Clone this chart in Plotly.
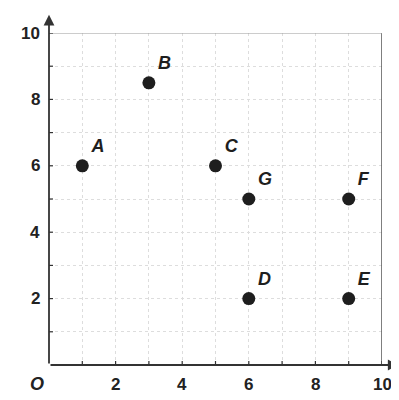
import plotly.graph_objects as go

labels = ["A", "B", "C", "G", "F", "D", "E"]
xs = [1, 3, 5, 6, 9, 6, 9]
ys = [6, 8.5, 6, 5, 5, 2, 2]
tick_vals = [2, 4, 6, 8, 10]
tick_text = ["2", "4", "6", "8", "10"]

fig = go.Figure()
fig.add_trace(go.Scatter(
    x=xs, y=ys, mode="markers+text", text=labels,
    textposition="top right",
    marker=dict(size=13, color="#1e1e1e"),
    textfont=dict(family="Liberation Sans", size=18, color="#1e1e1e", weight="bold", style="italic"),
    cliponaxis=False, showlegend=False,
))

grid = dict(showgrid=True, gridcolor="#dddddd", griddash="dot", gridwidth=1, dtick=1)
fig.update_xaxes(range=[0, 10], tick0=0, **grid, showticklabels=False,
                 zeroline=False, showline=False, ticks="")
fig.update_yaxes(range=[0, 10], tick0=0, **grid, showticklabels=False,
                 zeroline=False, showline=False, ticks="")

# borders
fig.add_shape(type="line", x0=10, x1=10, y0=0, y1=10, xref="x", yref="y",
              line=dict(color="#555555", width=1.5))
fig.add_shape(type="line", x0=0, x1=10, y0=10, y1=10, xref="x", yref="y",
              line=dict(color="#999999", width=1.2))

# axes with arrows
fig.add_annotation(x=0, y=10.55, ax=0, ay=0, xref="x", yref="y", axref="x", ayref="y",
                   showarrow=True, arrowhead=2, arrowsize=1.2, arrowwidth=1.8,
                   arrowcolor="#333333", text="")
fig.add_annotation(x=10.5, y=0, ax=0, ay=0, xref="x", yref="y", axref="x", ayref="y",
                   showarrow=True, arrowhead=2, arrowsize=1.2, arrowwidth=1.8,
                   arrowcolor="#333333", text="")

# small ticks on axes
for i in range(1, 11):
    fig.add_shape(type="line", x0=i, x1=i, y0=-0.12, y1=0.12, xref="x", yref="y",
                  line=dict(color="#333333", width=1.2))
    fig.add_shape(type="line", x0=-0.12, x1=0.12, y0=i, y1=i, xref="x", yref="y",
                  line=dict(color="#333333", width=1.2))

font_t = dict(family="Liberation Sans", size=17, color="#222222", weight="bold")
for v, t in zip(tick_vals, tick_text):
    fig.add_annotation(x=v, y=0, yshift=-19, xref="x", yref="y", text=t,
                       showarrow=False, font=font_t)
    fig.add_annotation(x=0, y=v, xshift=-7, xref="x", yref="y", text=t,
                       showarrow=False, font=font_t, xanchor="right")
fig.add_annotation(x=0, y=0, xshift=-12, yshift=-19, xref="x", yref="y", text="O",
                   showarrow=False, font=dict(family="Liberation Sans", size=18,
                                              color="#222222", weight="bold", style="italic"))

fig.update_layout(width=391, height=392, margin=dict(l=41, r=17, t=25, b=35),
                  plot_bgcolor="white", paper_bgcolor="white")
fig.write_html("out.html")
